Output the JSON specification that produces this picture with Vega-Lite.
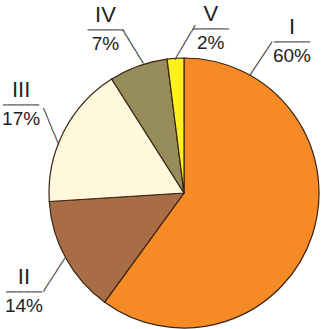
{
  "$schema": "https://vega.github.io/schema/vega-lite/v6.json",
  "width": 270,
  "height": 270,
  "autosize": {"type": "none"},
  "padding": {"left": 49, "top": 58, "right": 2, "bottom": 1},
  "background": "white",
  "config": {"view": {"stroke": null}},
  "data": {
    "values": [
      {"cat": "I", "share": 0.60},
      {"cat": "II", "share": 0.14},
      {"cat": "III", "share": 0.17},
      {"cat": "IV", "share": 0.07},
      {"cat": "V", "share": 0.02}
    ]
  },
  "layer": [
    {
      "mark": {"type": "arc", "stroke": "#3a2314", "strokeWidth": 1.2},
      "encoding": {
        "theta": {"field": "share", "type": "quantitative", "stack": true},
        "order": {"field": "cat", "type": "ordinal"},
        "color": {
          "field": "cat",
          "type": "nominal",
          "legend": null,
          "scale": {
            "domain": ["I", "II", "III", "IV", "V"],
            "range": ["#F68A24", "#A86D47", "#FFF8DC", "#978D5B", "#FFF21C"]
          }
        }
      }
    },
    {
      "mark": {"type": "text", "font": "DejaVu Sans Mono", "fontSize": 6, "align": "center", "baseline": "middle", "color": "#333333"},
      "encoding": {
        "text": {"value": "━━━━━━━━━━━"},
        "theta": {"field": "share", "type": "quantitative", "stack": null,
          "scale": {"type": "linear", "zero": false, "nice": false,
            "domain": [0.02, 0.07, 0.14, 0.17, 0.6],
            "range": [0.0066, -0.3354, -2.1335, -1.1071, 0.5199]}},
        "radius": {"field": "share", "type": "quantitative",
          "scale": {"type": "linear", "zero": false, "nice": false,
            "domain": [0.02, 0.07, 0.14, 0.17, 0.6],
            "range": [150.5, 154.9, 153.7, 148.7, 155]}},
        "angle": {"field": "share", "type": "quantitative",
          "scale": {"type": "linear", "zero": false, "nice": false,
            "domain": [0.02, 0.07, 0.14, 0.17, 0.6],
            "range": [-59.5, 58.4, -57.1, 67.3, -56.3]}}
      }
    },
    {
      "mark": {"type": "text", "font": "DejaVu Sans Mono", "fontSize": 6, "align": "center", "baseline": "middle", "color": "#333333"},
      "encoding": {
        "text": {"value": "━━━━━━━━━━"},
        "theta": {"field": "share", "type": "quantitative", "stack": null,
          "scale": {"type": "linear", "zero": false, "nice": false,
            "domain": [0.02, 0.07, 0.14, 0.17, 0.6],
            "range": [0.1613, -0.45, -2.1249, -1.0751, 0.6208]}},
        "radius": {"field": "share", "type": "quantitative",
          "scale": {"type": "linear", "zero": false, "nice": false,
            "domain": [0.02, 0.07, 0.14, 0.17, 0.6],
            "range": [166.5, 180.5, 188.2, 185.2, 185.6]}}
      }
    },
    {
      "mark": {"type": "text", "font": "Liberation Sans", "fontSize": 22, "align": "center", "baseline": "middle", "dy": -15, "color": "#222222"},
      "encoding": {
        "text": {"field": "cat", "type": "nominal"},
        "theta": {"field": "share", "type": "quantitative", "stack": null,
          "scale": {"type": "linear", "zero": false, "nice": false,
            "domain": [0.02, 0.07, 0.14, 0.17, 0.6],
            "range": [0.1613, -0.45, -2.1249, -1.0751, 0.6208]}},
        "radius": {"field": "share", "type": "quantitative",
          "scale": {"type": "linear", "zero": false, "nice": false,
            "domain": [0.02, 0.07, 0.14, 0.17, 0.6],
            "range": [166.5, 180.5, 188.2, 185.2, 185.6]}}
      }
    },
    {
      "mark": {"type": "text", "font": "Liberation Sans", "fontSize": 19, "align": "center", "baseline": "middle", "dy": 14, "color": "#222222"},
      "encoding": {
        "text": {"field": "share", "type": "quantitative", "format": ".0%"},
        "theta": {"field": "share", "type": "quantitative", "stack": null,
          "scale": {"type": "linear", "zero": false, "nice": false,
            "domain": [0.02, 0.07, 0.14, 0.17, 0.6],
            "range": [0.1613, -0.45, -2.1249, -1.0751, 0.6208]}},
        "radius": {"field": "share", "type": "quantitative",
          "scale": {"type": "linear", "zero": false, "nice": false,
            "domain": [0.02, 0.07, 0.14, 0.17, 0.6],
            "range": [166.5, 180.5, 188.2, 185.2, 185.6]}}
      }
    }
  ],
  "resolve": {"scale": {"theta": "independent", "radius": "independent", "angle": "independent", "color": "independent"}}
}
